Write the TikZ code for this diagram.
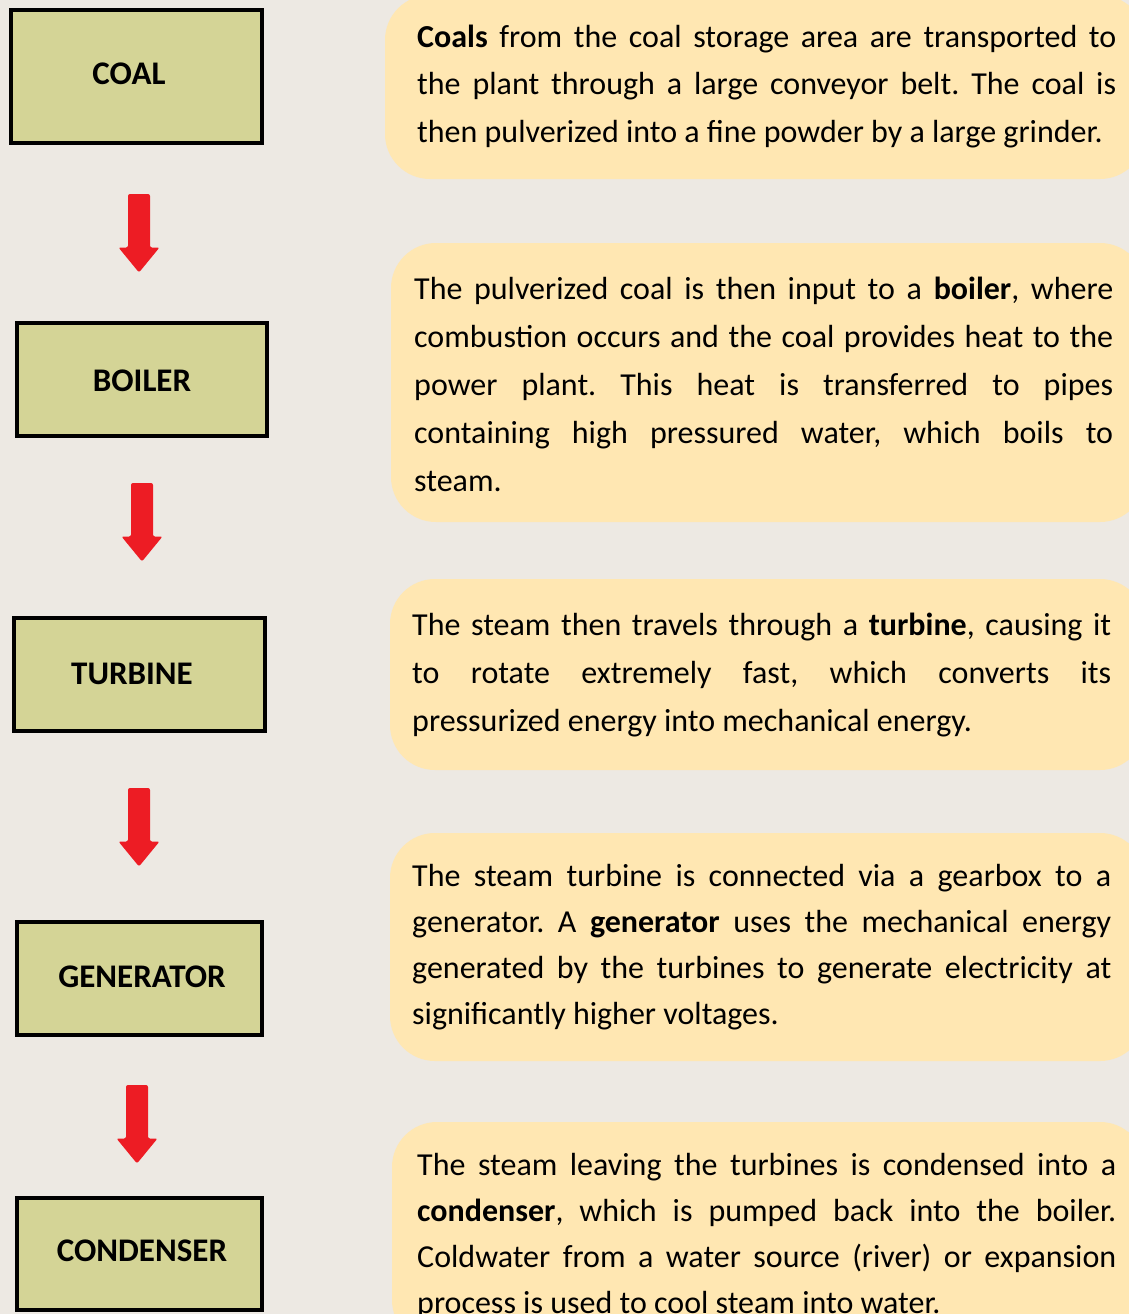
\documentclass[tikz,border=0pt]{standalone}
\usepackage{fontspec}
\setmainfont{Carlito}
\usetikzlibrary{calc}
\definecolor{bgc}{RGB}{237,233,227}
\definecolor{boxfill}{RGB}{212,212,150}
\definecolor{calloutfill}{RGB}{255,231,178}
\definecolor{arrowred}{RGB}{237,28,36}
\tikzset{
  stagebox/.style={draw=black, line width=4pt, fill=boxfill},
  stagelabel/.style={inner sep=0pt, font=\fontsize{33}{36}\selectfont\bfseries},
  callout/.style={fill=calloutfill, rounded corners=45pt},
  desc/.style={anchor=base west, inner sep=0pt},
  blockarrow/.style={fill=arrowred, rounded corners=2pt}
}
\newcommand{\jline}[1]{\makebox[699pt][s]{#1}}
\frenchspacing
\begin{document}
\begin{tikzpicture}[x=1pt,y=-1pt]
\useasboundingbox (0,0) rectangle (1129,1314);
\fill[bgc] (0,0) rectangle (1129,1314);

% callouts
\fill[callout] (385,-5) rectangle (1145,179);
\fill[callout] (391,243) rectangle (1145,522);
\fill[callout] (390,579) rectangle (1145,770);
\fill[callout] (390,833) rectangle (1145,1061);
\fill[callout] (392,1122) rectangle (1145,1345);

% stage boxes
\draw[stagebox] (11,10) rectangle (262,143);
\draw[stagebox] (17,323) rectangle (267,436);
\draw[stagebox] (14,618) rectangle (265,731);
\draw[stagebox] (17,922) rectangle (262,1035);
\draw[stagebox] (17,1198) rectangle (262,1310);
\node[stagelabel] (coal) at (129,73.5) {COAL};
\node[stagelabel] (boiler) at (142,381) {BOILER};
\node[stagelabel] (turbine) at (132,673.5) {TURBINE};
\node[stagelabel] (generator) at (142,977) {GENERATOR};
\node[stagelabel] (condenser) at (142,1251) {CONDENSER};

% block arrows
\foreach \cx/\ty in {139/194, 142/483, 139/788, 137/1085}{
  \fill[blockarrow] (\cx-11,\ty+53.5) -- (\cx-11,\ty) -- (\cx+11,\ty) -- (\cx+11,\ty+53.5)
    -- (\cx+20.5,\ty+53.5) -- (\cx,\ty+78.5) -- (\cx-20.5,\ty+53.5) -- cycle;
}

% descriptions
\node[desc] (d1) at (417,47.5) {\parbox[t]{699pt}{\fontsize{32}{47.5}\selectfont
\jline{\textbf{Coals} from the coal storage area are transported to}\\
\jline{the plant through a large conveyor belt. The coal is}\\
then pulverized into a fine powder by a large grinder.}};

\node[desc] (d2) at (414,299.5) {\parbox[t]{699pt}{\fontsize{32}{48}\selectfont
\jline{The pulverized coal is then input to a \textbf{boiler}, where}\\
\jline{combustion occurs and the coal provides heat to the}\\
\jline{power plant. This heat is transferred to pipes}\\
\jline{containing high pressured water, which boils to}\\
steam.}};

\node[desc] (d3) at (412,635.5) {\parbox[t]{699pt}{\fontsize{32}{48}\selectfont
\jline{The steam then travels through a \textbf{turbine}, causing it}\\
\jline{to rotate extremely fast, which converts its}\\
pressurized energy into mechanical energy.}};

\node[desc] (d4) at (412,886.5) {\parbox[t]{699pt}{\fontsize{32}{46}\selectfont
\jline{The steam turbine is connected via a gearbox to a}\\
\jline{generator. A \textbf{generator} uses the mechanical energy}\\
\jline{generated by the turbines to generate electricity at}\\
significantly higher voltages.}};

\node[desc] (d5) at (417,1175.5) {\parbox[t]{699pt}{\fontsize{32}{46}\selectfont
\jline{The steam leaving the turbines is condensed into a}\\
\jline{\textbf{condenser}, which is pumped back into the boiler.}\\
\jline{Coldwater from a water source (river) or expansion}\\
process is used to cool steam into water.}};
\end{tikzpicture}
\end{document}
